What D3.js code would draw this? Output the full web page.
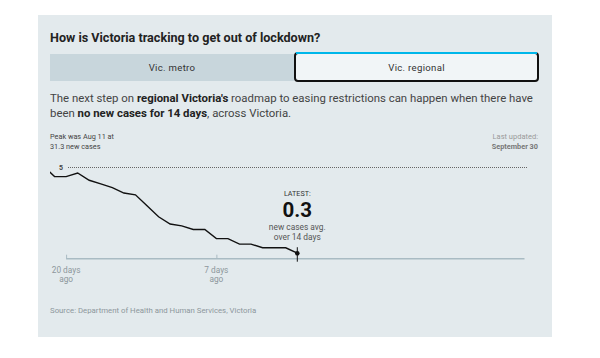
<!DOCTYPE html>
<html>
<head>
<meta charset="utf-8">
<script src="https://cdn.jsdelivr.net/npm/d3@7"></script>
<style>
  body { margin: 0; background: #fff; }
  svg { display: block; font-family: Roboto, sans-serif; }
</style>
</head>
<body>
<svg id="chart" width="600" height="358"></svg>
<script>
// 14-day average of new cases, regional Victoria, by days ago
const daysAgo = [22, 21, 20, 19, 18, 17, 16, 15, 14, 13, 12, 11, 10, 9, 8, 7, 6, 5, 4, 3, 2, 1, 0];
const avgCases = [5.1, 4.5, 4.5, 4.7, 4.3, 4.1, 3.9, 3.6, 3.5, 2.9, 2.3, 1.9, 1.8, 1.6, 1.6, 1.1, 1.1, 0.8, 0.8, 0.6, 0.6, 0.6, 0.3];
const xTicks = [20, 7];
const yTicks = [5];
const tabs = ["Vic. metro", "Vic. regional"];

const svg = d3.select("#chart");

// card
svg.append("rect").attr("x", 38).attr("y", 15).attr("width", 514).attr("height", 322).attr("fill", "#e3eaed");

svg.append("text").attr("x", 50).attr("y", 42)
  .attr("font-size", "12.6px").attr("font-weight", 700).attr("fill", "#222")
  .text("How is Victoria tracking to get out of lockdown?");

// tabs
svg.append("rect").attr("x", 50).attr("y", 54).attr("width", 244).attr("height", 27).attr("fill", "#c8d6dc");
svg.append("rect").attr("x", 295).attr("y", 53).attr("width", 243).attr("height", 28).attr("rx", 3)
  .attr("fill", "#f1f5f7").attr("stroke", "#111").attr("stroke-width", 2);
svg.append("rect").attr("x", 296).attr("y", 52).attr("width", 241).attr("height", 2).attr("fill", "#00b7ea");
tabs.forEach(function (t, i) {
  svg.append("text").attr("x", i === 0 ? 172 : 416.5).attr("y", 71)
    .attr("text-anchor", "middle").attr("font-size", "9.6px").attr("letter-spacing", "0.3px").attr("fill", "#333").text(t);
});

// paragraph
const p1 = svg.append("text").attr("x", 50).attr("y", 102).attr("font-size", "11.4px").attr("fill", "#444");
p1.append("tspan").text("The next step on ");
p1.append("tspan").attr("font-weight", 700).attr("fill", "#222").text("regional Victoria's");
p1.append("tspan").text(" roadmap to easing restrictions can happen when there have");
const p2 = svg.append("text").attr("x", 50).attr("y", 117).attr("font-size", "11.4px").attr("fill", "#444");
p2.append("tspan").text("been ");
p2.append("tspan").attr("font-weight", 700).attr("fill", "#222").text("no new cases for 14 days");
p2.append("tspan").text(", across Victoria.");

// small notes
svg.append("text").attr("x", 50).attr("y", 139).attr("font-size", "7.3px").attr("fill", "#444").text("Peak was Aug 11 at");
svg.append("text").attr("x", 50).attr("y", 149).attr("font-size", "7.3px").attr("fill", "#444").text("31.3 new cases");
svg.append("text").attr("x", 538).attr("y", 139).attr("text-anchor", "end").attr("font-size", "7.5px").attr("fill", "#9a9a9a").text("Last updated:");
svg.append("text").attr("x", 538).attr("y", 149).attr("text-anchor", "end").attr("font-size", "7.3px").attr("font-weight", 700).attr("fill", "#777").text("September 30");

// scales
const x = d3.scaleLinear().domain([20, -20]).range([66.1, 528.5]);
const y = d3.scaleLinear().domain([0, 5]).range([258.7, 167.5]);

// gridline
yTicks.forEach(function (v) {
  svg.append("line").attr("x1", 68).attr("x2", 528).attr("y1", y(v)).attr("y2", y(v))
    .attr("stroke", "#666").attr("stroke-width", 1).attr("stroke-dasharray", "1,1");
  svg.append("text").attr("x", 63).attr("y", y(v) + 2.5).attr("text-anchor", "end")
    .attr("font-size", "7px").attr("font-weight", 700).attr("fill", "#444").text(v);
});

// x axis
const axis = svg.append("g").attr("transform", "translate(0," + y(0) + ")")
  .call(d3.axisTop(x).tickValues(xTicks).tickSize(4).tickFormat(""));
axis.select(".domain").attr("stroke", "#a9bbc3").attr("stroke-width", 1.5).attr("d", "M" + x(20) + ",0H" + (x(-20) - 4));
axis.selectAll(".tick line").attr("stroke", "#a9bbc3");
xTicks.forEach(function (d) {
  const t = svg.append("text").attr("text-anchor", "middle").attr("font-size", "8.3px").attr("fill", "#8d979c");
  t.append("tspan").attr("x", x(d)).attr("y", y(0) + 14).text(d + " days");
  t.append("tspan").attr("x", x(d)).attr("y", y(0) + 23).text("ago");
});

// line
svg.append("clipPath").attr("id", "clip").append("rect").attr("x", 50).attr("y", 150).attr("width", 480).attr("height", 120);
const pts = daysAgo.map(function (d, i) { return [d, avgCases[i]]; });
svg.append("path").datum(pts).attr("clip-path", "url(#clip)")
  .attr("fill", "none").attr("stroke", "#111").attr("stroke-width", 1.4)
  .attr("d", d3.line().x(function (d) { return x(d[0]); }).y(function (d) { return y(d[1]); }));

// latest marker
const last = pts[pts.length - 1];
svg.append("line").attr("x1", x(last[0])).attr("x2", x(last[0])).attr("y1", y(last[1]) - 6).attr("y2", y(0) + 3)
  .attr("stroke", "#111").attr("stroke-width", 1);
svg.append("circle").attr("cx", x(last[0])).attr("cy", y(last[1])).attr("r", 2.3).attr("fill", "#111");

svg.append("text").attr("x", x(0)).attr("y", 195.5).attr("text-anchor", "middle").attr("font-size", "7.2px").attr("fill", "#333").text("LATEST:");
svg.append("text").attr("x", x(0)).attr("y", 217).attr("text-anchor", "middle").attr("font-size", "20.5px").attr("font-weight", 700).attr("fill", "#111").text(last[1]);
svg.append("text").attr("x", x(0)).attr("y", 230).attr("text-anchor", "middle").attr("font-size", "8.4px").attr("fill", "#555").text("new cases avg.");
svg.append("text").attr("x", x(0)).attr("y", 240).attr("text-anchor", "middle").attr("font-size", "8.4px").attr("fill", "#555").text("over 14 days");

svg.append("text").attr("x", 50).attr("y", 313).attr("font-size", "7.8px").attr("fill", "#8d979c")
  .text("Source: Department of Health and Human Services, Victoria");
</script>
</body>
</html>
